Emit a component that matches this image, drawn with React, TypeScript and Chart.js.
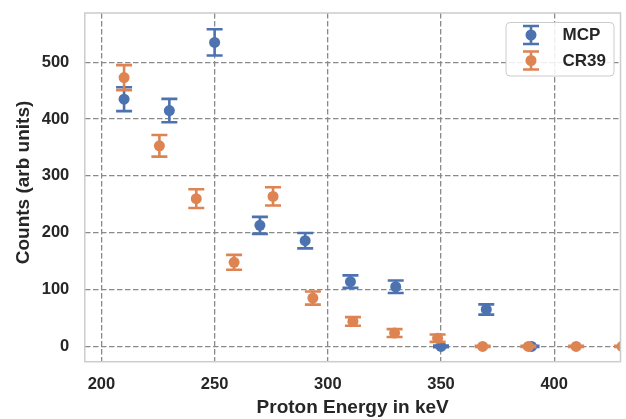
import React, { useEffect, useRef } from "react";
import { Chart, registerables } from "chart.js";

Chart.register(...registerables);

// ---- Data ----
const mcpEnergy = [210, 230, 250, 270, 290, 310, 330, 350, 370, 390];
const mcpCounts = [435, 415, 535, 213, 186, 114, 105, 0, 65, 0];
const mcpErr = [21, 20.5, 23, 15, 13.5, 11, 11, 1.5, 9, 1];

const cr39Energy = [210, 225.6, 241.9, 258.6, 275.8, 293.4, 311.1, 329.5, 348.5, 368.4, 388.6, 409.7, 430];
const cr39Counts = [473, 353, 260, 148, 264, 85, 44, 23.5, 14.5, 0, 0, 0, 0];
const cr39Err = [22, 19, 16.5, 13, 16, 11.5, 7.6, 7, 6.5, 1, 1, 1, 1];

const xTicks = [200, 250, 300, 350, 400];
const yTicks = [0, 100, 200, 300, 400, 500];

const seriesNames = ["MCP", "CR39"];
const xTitle = "Proton Energy in keV";
const yTitle = "Counts (arb units)";
const BLUE = "#4C72B0";
const ORANGE = "#DD8452";
const TEXT = "#262626";
const FONT = "'Liberation Sans', Arial, sans-serif";

const errorBarPlugin = {
  id: "errorBars",
  beforeDatasetDraw(chart: any, args: any) {
    const ds: any = chart.data.datasets[args.index];
    const errs: number[] = ds.errors || [];
    const { ctx, chartArea } = chart;
    const xs = chart.scales.x;
    const ys = chart.scales.y;
    ctx.save();
    ctx.beginPath();
    ctx.rect(chartArea.left, chartArea.top, chartArea.right - chartArea.left, chartArea.bottom - chartArea.top);
    ctx.clip();
    ctx.strokeStyle = ds.backgroundColor;
    ctx.lineWidth = 2.6;
    ctx.lineCap = "butt";
    ds.data.forEach((pt: any, i: number) => {
      const e = errs[i] || 0;
      const x = xs.getPixelForValue(pt.x);
      const y1 = ys.getPixelForValue(pt.y + e);
      const y2 = ys.getPixelForValue(pt.y - e);
      ctx.beginPath();
      ctx.moveTo(x, y1);
      ctx.lineTo(x, y2);
      ctx.moveTo(x - 8, y1);
      ctx.lineTo(x + 8, y1);
      ctx.moveTo(x - 8, y2);
      ctx.lineTo(x + 8, y2);
      ctx.stroke();
    });
    ctx.restore();
  },
  afterDraw(chart: any) {
    const { ctx, chartArea } = chart;
    ctx.save();
    // frame
    ctx.strokeStyle = "#cccccc";
    ctx.lineWidth = 1.5;
    ctx.strokeRect(chartArea.left, chartArea.top, chartArea.right - chartArea.left, chartArea.bottom - chartArea.top);
    // y title
    ctx.save();
    ctx.translate(24, 182.5);
    ctx.rotate(-Math.PI / 2);
    ctx.fillStyle = TEXT;
    ctx.font = `bold 19px ${FONT}`;
    ctx.textAlign = "center";
    ctx.textBaseline = "middle";
    ctx.fillText(yTitle, 0, 0);
    ctx.restore();
    // legend
    const bx = 506, by = 22.5, bw = 108, bh = 53.5;
    ctx.beginPath();
    ctx.roundRect(bx, by, bw, bh, 4);
    ctx.fillStyle = "rgba(255,255,255,0.85)";
    ctx.fill();
    ctx.strokeStyle = "#cccccc";
    ctx.lineWidth = 1;
    ctx.stroke();
    const colors = [BLUE, ORANGE];
    const cys = [35, 60.5];
    seriesNames.forEach((name, i) => {
      const cx = 531;
      const cy = cys[i];
      ctx.strokeStyle = colors[i];
      ctx.lineWidth = 2.6;
      ctx.beginPath();
      ctx.moveTo(cx, cy - 9);
      ctx.lineTo(cx, cy + 9);
      ctx.moveTo(cx - 8, cy - 9);
      ctx.lineTo(cx + 8, cy - 9);
      ctx.moveTo(cx - 8, cy + 9);
      ctx.lineTo(cx + 8, cy + 9);
      ctx.stroke();
      ctx.beginPath();
      ctx.arc(cx, cy, 5.5, 0, Math.PI * 2);
      ctx.fillStyle = colors[i];
      ctx.fill();
      ctx.fillStyle = TEXT;
      ctx.font = `bold 17px ${FONT}`;
      ctx.textAlign = "left";
      ctx.textBaseline = "middle";
      ctx.fillText(name, 562.5, cy + 0.5);
    });
    ctx.restore();
  },
};

export default function App() {
  const ref = useRef<HTMLCanvasElement | null>(null);
  useEffect(() => {
    if (!ref.current) return;
    const tickFont = { family: FONT, weight: "bold" as const, size: 16.5 };
    const titleFont = { family: FONT, weight: "bold" as const, size: 19 };
    const grid = {
      color: "#8a8a8a",
      lineWidth: 1.3,
      drawTicks: false,
    };
    const chart = new Chart(ref.current, {
      type: "scatter",
      data: {
        datasets: [
          {
            label: seriesNames[0],
            data: mcpEnergy.map((x, i) => ({ x, y: mcpCounts[i] })),
            errors: mcpErr,
            backgroundColor: BLUE,
            borderWidth: 0,
            pointRadius: 5.5,
            pointHoverRadius: 5.5,
            order: 2,
            clip: 0,
          } as any,
          {
            label: seriesNames[1],
            data: cr39Energy.map((x, i) => ({ x, y: cr39Counts[i] })),
            errors: cr39Err,
            backgroundColor: ORANGE,
            borderWidth: 0,
            pointRadius: 5.5,
            pointHoverRadius: 5.5,
            order: 1,
            clip: 0,
          } as any,
        ],
      },
      options: {
        responsive: false,
        animation: false,
        devicePixelRatio: 1,
        events: [],
        layout: { padding: { top: 13, right: 3.3, bottom: 0, left: 0 } },
        plugins: {
          legend: { display: false },
          tooltip: { enabled: false },
        },
        scales: {
          x: {
            type: "linear",
            min: 192.65,
            max: 429.3,
            afterBuildTicks: (s: any) => {
              s.ticks = xTicks.map((v) => ({ value: v }));
            },
            afterFit: (s: any) => {
              s.height = 57.3;
              s.paddingLeft = 0;
              s.paddingRight = 0;
            },
            ticks: {
              font: tickFont,
              color: TEXT,
              padding: 13.3,
              maxRotation: 0,
              callback: (v: any) => String(v),
            },
            grid: grid as any,
            border: { display: false, dash: [5.5, 2.5] },
            title: {
              display: true,
              text: xTitle,
              font: titleFont,
              color: TEXT,
              padding: { top: 0, bottom: 0 },
            },
          },
          y: {
            type: "linear",
            min: -26.9,
            max: 586.7,
            afterBuildTicks: (s: any) => {
              s.ticks = yTicks.map((v) => ({ value: v }));
            },
            afterFit: (s: any) => {
              s.width = 84.8;
              s.paddingTop = 0;
              s.paddingBottom = 0;
            },
            ticks: {
              font: tickFont,
              color: TEXT,
              padding: 15.5,
              callback: (v: any) => String(v),
            },
            grid: grid as any,
            border: { display: false, dash: [5.5, 2.5] },
            title: { display: false },
          },
        },
      },
      plugins: [errorBarPlugin],
    });
    return () => chart.destroy();
  }, []);
  return (
    <div style={{ position: "fixed", left: 0, top: 0, width: 626, height: 419, background: "#fff" }}>
      <canvas ref={ref} width={626} height={419} style={{ display: "block" }} />
    </div>
  );
}
